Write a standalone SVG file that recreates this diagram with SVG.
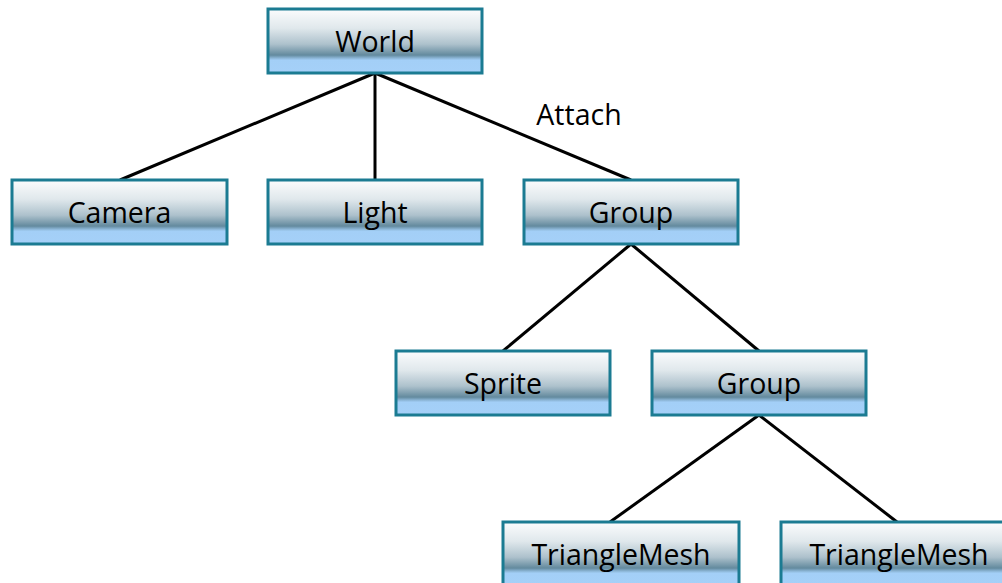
<svg xmlns="http://www.w3.org/2000/svg" width="1002" height="583" viewBox="0 0 1002 583">
<defs>
<linearGradient id="g" x1="0" y1="0" x2="0" y2="1">
<stop offset="0" stop-color="#fbfcfd"/>
<stop offset="0.3" stop-color="#e0e8ec"/>
<stop offset="0.55" stop-color="#adc1cc"/>
<stop offset="0.72" stop-color="#638a9e"/>
<stop offset="0.77" stop-color="#8db7d8"/>
<stop offset="0.8" stop-color="#a3cff7"/>
<stop offset="1" stop-color="#a5d0f8"/>
</linearGradient>
<style>
.box{fill:url(#g);stroke:#1b7b92;stroke-width:3}
.t{font-family:"Open Sans","Liberation Sans",sans-serif;font-size:28.5px;fill:#000;text-anchor:middle}
.c{stroke:#000;stroke-width:3;fill:none}
</style>
</defs>
<rect width="1002" height="583" fill="#fff"/>
<g id="connectors">
<line class="c" x1="375" y1="73" x2="120" y2="180"/>
<line class="c" x1="375" y1="73" x2="375" y2="180"/>
<line class="c" x1="375" y1="73" x2="631" y2="180"/>
<line class="c" x1="631" y1="244" x2="503" y2="351"/>
<line class="c" x1="631" y1="244" x2="759" y2="351"/>
<line class="c" x1="759" y1="415" x2="610" y2="522"/>
<line class="c" x1="759" y1="415" x2="897" y2="522"/>
<text class="t" x="579" y="125">Attach</text>
</g>
<g id="world"><rect class="box" x="268" y="9" width="214" height="64"/><text class="t" x="375" y="52">World</text></g>
<g id="camera"><rect class="box" x="12" y="180" width="215" height="64"/><text class="t" x="119.5" y="223">Camera</text></g>
<g id="light"><rect class="box" x="268" y="180" width="214" height="64"/><text class="t" x="375" y="223">Light</text></g>
<g id="group1"><rect class="box" x="524" y="180" width="214" height="64"/><text class="t" x="631" y="223">Group</text></g>
<g id="sprite"><rect class="box" x="396" y="351" width="214" height="64"/><text class="t" x="503" y="394">Sprite</text></g>
<g id="group2"><rect class="box" x="652" y="351" width="214" height="64"/><text class="t" x="759" y="394">Group</text></g>
<g id="mesh1"><rect class="box" x="503" y="522" width="236" height="64"/><text class="t" x="621" y="565">TriangleMesh</text></g>
<g id="mesh2"><rect class="box" x="781" y="522" width="236" height="64"/><text class="t" x="899" y="565">TriangleMesh</text></g>
</svg>
